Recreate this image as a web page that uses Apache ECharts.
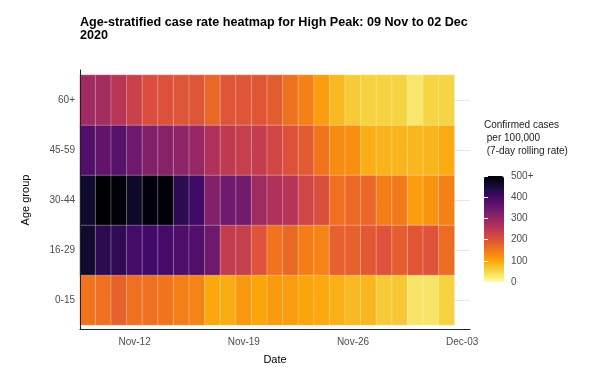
<!DOCTYPE html>
<html>
<head>
<meta charset="utf-8">
<script src="https://cdn.jsdelivr.net/npm/echarts@6/dist/echarts.min.js"></script>
<style>
  html, body { margin: 0; padding: 0; background: #fff; }
  #main { width: 589px; height: 372px; }
</style>
</head>
<body>
<div id="main"></div>
<script>
// dates shown in the chart (7-day rolling rate, one column per day)
var dates = ['Nov-09', 'Nov-10', 'Nov-11', 'Nov-12', 'Nov-13', 'Nov-14', 'Nov-15', 'Nov-16',
    'Nov-17', 'Nov-18', 'Nov-19', 'Nov-20', 'Nov-21', 'Nov-22', 'Nov-23', 'Nov-24',
    'Nov-25', 'Nov-26', 'Nov-27', 'Nov-28', 'Nov-29', 'Nov-30', 'Dec-01', 'Dec-02'];
var axisEnd = ['Dec-03'];
var tickDates = ['Nov-12', 'Nov-19', 'Nov-26', 'Dec-03'];

// bottom to top
var ageGroups = ['0-15', '16-29', '30-44', '45-59', '60+'];

// case rate per 100,000, one array per age group (capped at 500)
var rate0to15 = [155, 160, 178, 160, 160, 155, 142, 138, 98, 93, 115, 100,
    112, 110, 100, 97, 90, 80, 83, 62, 65, 32, 32, 55];
var rate16to29 = [460, 425, 420, 395, 400, 395, 385, 380, 345, 240, 235, 198,
    155, 170, 145, 138, 180, 180, 190, 198, 182, 193, 198, 165];
var rate30to44 = [460, 500, 495, 465, 495, 495, 425, 400, 320, 345, 340, 285,
    265, 258, 222, 205, 160, 168, 172, 145, 148, 110, 120, 140];
var rate45to59 = [380, 360, 375, 345, 320, 315, 305, 295, 265, 245, 235, 238,
    220, 200, 188, 155, 128, 124, 90, 86, 85, 83, 84, 95];
var rate60plus = [285, 280, 255, 230, 205, 200, 195, 195, 170, 195, 195, 193,
    185, 160, 140, 110, 80, 62, 55, 54, 54, 30, 53, 52];

var legendLabels = ['0', '100', '200', '300', '400', '500+'];

// inferno palette, low -> high
var inferno = ['#FCFFA4', '#F6D746', '#FCA50A', '#F37819', '#DD513A', '#BC3754',
    '#932667', '#6A176E', '#420A68', '#160B39', '#000004'];

var rows = [rate0to15, rate16to29, rate30to44, rate45to59, rate60plus];
var heatData = [];
rows.forEach(function (row, y) {
    row.forEach(function (v, x) {
        heatData.push([x, y, v]);
    });
});

var font = '"Liberation Sans", Arial, sans-serif';
var myChart = echarts.init(document.getElementById('main'));

var option = {
    backgroundColor: '#fff',
    animation: false,
    textStyle: { fontFamily: font },
    title: [
        {
            text: 'Age-stratified case rate heatmap for High Peak: 09 Nov to 02 Dec\n2020',
            left: 80,
            top: 16,
            padding: 0,
            textStyle: { fontFamily: font, fontSize: 12.6, fontWeight: 'bold', color: '#000', lineHeight: 13 }
        },
        {
            text: 'Confirmed cases\n per 100,000\n (7-day rolling rate)',
            left: 484,
            top: 119,
            padding: 0,
            textStyle: { fontFamily: font, fontSize: 10, fontWeight: 'normal', color: '#1a1a1a', lineHeight: 13 }
        }
    ],
    grid: [
        { left: 80, right: 119, top: 75, bottom: 47 },
        // row centre gridlines (behind the tiles)
        { left: 80, right: 119, top: 100, bottom: 72, z: 0 },
        // legend scale
        { left: 484, width: 20, top: 176, height: 106 },
        // full-length left axis line (panel is expanded past the tiles)
        { left: 80, right: 119, top: 70, bottom: 43 }
    ],
    xAxis: [
        {
            type: 'category',
            gridIndex: 0,
            data: dates.concat(axisEnd),
            offset: 4,
            z: 10,
            name: 'Date',
            nameLocation: 'middle',
            nameGap: 25,
            nameTextStyle: { fontSize: 11, color: '#000' },
            axisLine: { lineStyle: { color: '#222', width: 1 } },
            axisTick: {
                alignWithLabel: true,
                length: 3,
                lineStyle: { color: '#222' },
                interval: function (i, v) { return tickDates.indexOf(v) >= 0; }
            },
            axisLabel: {
                margin: 8,
                fontSize: 10,
                color: '#4d4d4d',
                interval: function (i, v) { return tickDates.indexOf(v) >= 0; }
            },
            splitLine: { show: false }
        },
        { type: 'value', gridIndex: 1, show: false, min: 0, max: 1 },
        { type: 'value', gridIndex: 2, show: false, min: 0, max: 1 },
        { type: 'value', gridIndex: 3, show: false, min: 0, max: 1 }
    ],
    yAxis: [
        {
            type: 'category',
            gridIndex: 0,
            data: ageGroups,
            z: 10,
            name: 'Age group',
            nameLocation: 'middle',
            nameRotate: 90,
            nameGap: 49,
            nameTextStyle: { fontSize: 11, color: '#000' },
            axisLine: { show: false },
            axisTick: { alignWithLabel: true, length: 3, lineStyle: { color: '#222' } },
            axisLabel: { margin: 5, fontSize: 10, color: '#4d4d4d' },
            splitLine: { show: false }
        },
        {
            type: 'value',
            gridIndex: 1,
            min: 0,
            max: 4,
            interval: 1,
            axisLine: { show: false },
            axisTick: { show: false },
            axisLabel: { show: false },
            splitLine: { show: true, lineStyle: { color: '#e6e6e6', width: 1 } }
        },
        {
            type: 'category',
            gridIndex: 2,
            data: legendLabels,
            boundaryGap: false,
            position: 'right',
            z: 10,
            axisLine: { show: false },
            axisTick: { inside: true, length: 4, lineStyle: { color: '#fff', width: 1 } },
            axisLabel: { margin: 7, fontSize: 10, color: '#4d4d4d' },
            splitLine: { show: false }
        },
        {
            type: 'category',
            gridIndex: 2,
            data: legendLabels,
            boundaryGap: false,
            position: 'left',
            z: 10,
            axisLine: { show: false },
            axisTick: { inside: true, length: 4, lineStyle: { color: '#fff', width: 1 } },
            axisLabel: { show: false },
            splitLine: { show: false }
        },
        {
            type: 'value',
            gridIndex: 3,
            min: 0,
            max: 1,
            z: 10,
            axisLine: { show: true, lineStyle: { color: '#222', width: 1 } },
            axisTick: { show: false },
            axisLabel: { show: false },
            splitLine: { show: false }
        }
    ],
    visualMap: {
        type: 'continuous',
        seriesIndex: 0,
        min: 0,
        max: 500,
        calculable: false,
        orient: 'vertical',
        left: 484,
        top: 176,
        padding: 0,
        itemWidth: 20,
        itemHeight: 106,
        text: null,
        showLabel: false,
        inRange: { color: inferno }
    },
    series: [{
        name: 'rate',
        type: 'heatmap',
        xAxisIndex: 0,
        yAxisIndex: 0,
        data: heatData,
        itemStyle: { borderColor: 'rgba(255,255,255,0.3)', borderWidth: 1 },
        emphasis: { disabled: true }
    }]
};

myChart.setOption(option);
</script>
</body>
</html>
